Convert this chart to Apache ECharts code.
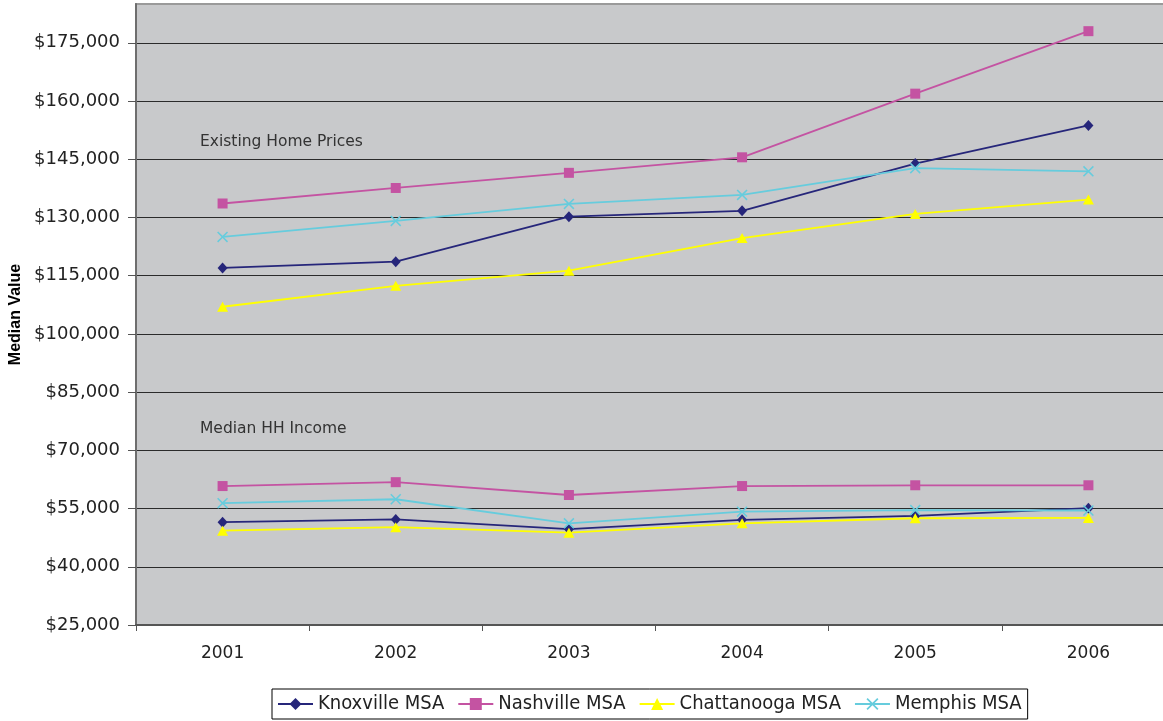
<!DOCTYPE html>
<html>
<head>
<meta charset="utf-8">
<title>Median Value: Existing Home Prices and Median HH Income</title>
<script src="https://cdn.jsdelivr.net/npm/echarts@6/dist/echarts.min.js"></script>
<style>
  html, body { margin: 0; padding: 0; background: #ffffff; }
  #chart { width: 1163px; height: 721px; }
</style>
</head>
<body>
<div id="chart"></div>
<script>
// Years on the category axis
const years = ['2001', '2002', '2003', '2004', '2005', '2006'];

// Existing home prices by metro area
const knoxvilleHome   = [117000, 118600, 130200, 131700, 143900, 153700];
const nashvilleHome   = [133600, 137600, 141500, 145500, 161900, 178000];
const chattanoogaHome = [107000, 112400, 116300, 124700, 130900, 134600];
const memphisHome     = [125000, 129100, 133500, 135800, 142700, 141900];

// Median household income by metro area
const knoxvilleIncome   = [51500, 52200, 49700, 52100, 53100, 55100];
const nashvilleIncome   = [60800, 61800, 58500, 60800, 61000, 61000];
const chattanoogaIncome = [49300, 50200, 48800, 51200, 52500, 52600];
const memphisIncome     = [56400, 57400, 51200, 54200, 54600, 54500];

// Value axis range and step
const yMin = 25000;
const yMax = 185000;
const yStep = 15000;

const areaNames = ['Knoxville MSA', 'Nashville MSA', 'Chattanooga MSA', 'Memphis MSA'];

const crossPath = 'path://M0,1L1,0L5,4L9,0L10,1L6,5L10,9L9,10L5,6L1,10L0,9L4,5Z';

const styles = {
  'Knoxville MSA':   { color: '#26267A', symbol: 'diamond',  size: [10, 11] },
  'Nashville MSA':   { color: '#C453A2', symbol: 'rect',     size: 10 },
  'Chattanooga MSA': { color: '#FFFF00', symbol: 'triangle', size: [11, 10] },
  'Memphis MSA':     { color: '#66CCDD', symbol: crossPath,  size: 11 }
};

const groups = [
  [knoxvilleHome, knoxvilleIncome],
  [nashvilleHome, nashvilleIncome],
  [chattanoogaHome, chattanoogaIncome],
  [memphisHome, memphisIncome]
];

function makeSeries(name, data) {
  const s = styles[name];
  return {
    name: name,
    type: 'line',
    data: data,
    symbol: s.symbol,
    symbolSize: s.size,
    showAllSymbol: true,
    itemStyle: { color: s.color },
    lineStyle: { color: s.color, width: 1.8 },
    emphasis: { disabled: true }
  };
}

const series = [];
areaNames.forEach(function (name, i) {
  series.push(makeSeries(name, groups[i][0]));
  series.push(makeSeries(name, groups[i][1]));
});

const chart = echarts.init(document.getElementById('chart'), null, { renderer: 'canvas' });

chart.setOption({
  animation: false,
  backgroundColor: '#ffffff',
  grid: {
    left: 136,
    top: 4,
    width: 1039,
    height: 621,
    show: true,
    backgroundColor: '#C8C9CB',
    borderColor: '#9a9a9a',
    borderWidth: 2,
    containLabel: false,
    outerBoundsMode: 'none'
  },
  legend: {
    data: areaNames,
    left: 272,
    top: 689,
    orient: 'horizontal',
    padding: [5, 6, 5, 5],
    itemGap: 13,
    itemWidth: 35,
    itemHeight: 15,
    borderColor: '#000000',
    borderWidth: 1,
    backgroundColor: '#ffffff',
    selectedMode: false,
    textStyle: {
      fontFamily: '"DejaVu Sans Condensed", "DejaVu Sans", sans-serif',
      fontSize: 20,
      color: '#222222'
    }
  },
  xAxis: {
    type: 'category',
    data: years,
    boundaryGap: true,
    axisLine: { lineStyle: { color: '#555555', width: 2 } },
    axisTick: { show: true, length: 6, lineStyle: { color: '#555555', width: 1 } },
    axisLabel: {
      margin: 20,
      fontFamily: '"DejaVu Sans", sans-serif',
      fontSize: 17,
      color: '#222222'
    },
    splitLine: { show: false }
  },
  yAxis: {
    type: 'value',
    min: yMin,
    max: yMax,
    interval: yStep,
    name: 'Median Value',
    nameLocation: 'middle',
    nameGap: 111,
    nameTextStyle: {
      fontFamily: '"Liberation Sans", Arial, sans-serif',
      fontWeight: 'bold',
      fontSize: 16,
      color: '#000000'
    },
    axisLine: { show: true, lineStyle: { color: '#6e6e6e', width: 2 } },
    axisTick: { show: true, inside: false, length: 8, lineStyle: { color: '#555555', width: 1 } },
    axisLabel: {
      margin: 16,
      showMaxLabel: false,
      fontFamily: '"DejaVu Sans", sans-serif',
      fontSize: 18,
      color: '#222222',
      formatter: function (v) { return '$' + v.toLocaleString('en-US'); }
    },
    splitLine: {
      show: true,
      showMaxLine: false,
      lineStyle: { color: '#2b2b2b', width: 1 }
    }
  },
  graphic: [
    {
      type: 'text',
      left: 200,
      top: 134,
      style: {
        text: 'Existing Home Prices',
        font: '15.5px "DejaVu Sans", sans-serif',
        fill: '#333333'
      }
    },
    {
      type: 'text',
      left: 200,
      top: 421,
      style: {
        text: 'Median HH Income',
        font: '15.5px "DejaVu Sans", sans-serif',
        fill: '#333333'
      }
    }
  ],
  series: series
});
</script>
</body>
</html>
